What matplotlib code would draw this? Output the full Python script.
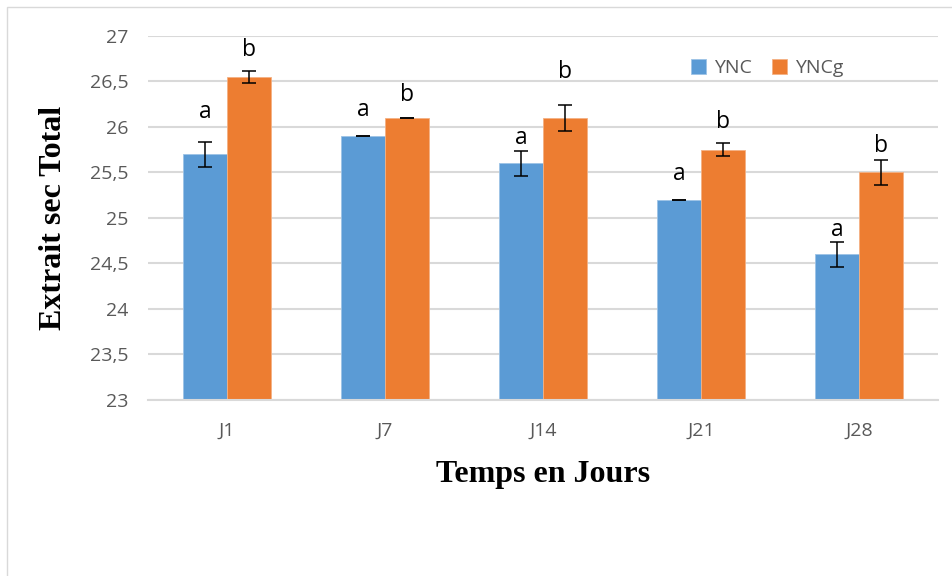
import matplotlib.pyplot as plt
import matplotlib.patches as mpatches
import numpy as np

days = ['J1', 'J7', 'J14', 'J21', 'J28']
ync = [25.7, 25.9, 25.6, 25.2, 24.6]
ync_err = [0.14, 0.0, 0.14, 0.0, 0.14]
yncg = [26.55, 26.1, 26.1, 25.75, 25.5]
yncg_err = [0.07, 0.0, 0.14, 0.07, 0.14]
ync_letters = ['a', 'a', 'a', 'a', 'a']
yncg_letters = ['b', 'b', 'b', 'b', 'b']
# where the letters sit (data units), placed by hand in the original
ync_letter_y = [26.16, 26.19, 25.88, 25.48, 24.87]
yncg_letter_y = [26.85, 26.35, 26.6, 26.05, 25.79]
yticks = [23, 23.5, 24, 24.5, 25, 25.5, 26, 26.5, 27]

blue = '#5B9BD5'
orange = '#ED7D31'
grey = '#595959'

fig = plt.figure(figsize=(9.53, 5.76), dpi=100)
ax = fig.add_axes([0.1553, 0.3056, 0.829, 0.632])

# chart area border (cropped)
fig.patches.append(mpatches.Rectangle((7 / 953, -0.1), 1.2, 1 - 7 / 576 + 0.1,
                                      transform=fig.transFigure, fill=False,
                                      edgecolor='#D9D9D9', lw=1))

x = np.arange(len(days))
width = 0.28
err_kw = {'ecolor': 'black', 'elinewidth': 1.1, 'capthick': 1.1}
ax.bar(x - width / 2, ync, width, color=blue, edgecolor='#9DC3E6',
       linewidth=0.6, yerr=ync_err, capsize=5, error_kw=err_kw, label='YNC', zorder=2)
ax.bar(x + width / 2, yncg, width, color=orange, edgecolor='#F4B183',
       linewidth=0.6, yerr=yncg_err, capsize=5, error_kw=err_kw, label='YNCg', zorder=2)

for i in range(len(days)):
    ax.text(x[i] - width / 2, ync_letter_y[i], ync_letters[i], ha='center', va='center',
            fontsize=16.5, family='Open Sans')
    ax.text(x[i] + width / 2, yncg_letter_y[i], yncg_letters[i], ha='center', va='center',
            fontsize=16.5, family='Open Sans')

ax.set_xlim(-0.5, len(days) - 0.5)
ax.set_ylim(23, 27)
ax.set_yticks(yticks)
ax.set_yticklabels([('%g' % t).replace('.', ',') for t in yticks])
ax.set_xticks(x, days)
ax.tick_params(axis='both', length=0, labelsize=14, labelcolor=grey)
ax.tick_params(axis='y', pad=14)
ax.tick_params(axis='x', pad=16)
for lab in ax.get_xticklabels() + ax.get_yticklabels():
    lab.set_family('Open Sans')

ax.yaxis.grid(True, color='#D9D9D9', lw=1.5)
ax.set_axisbelow(True)
ax.spines[['top', 'right', 'left']].set_visible(False)
ax.spines['bottom'].set_color('#D9D9D9')
ax.spines['bottom'].set_linewidth(1.5)

ax.set_ylabel('Extrait sec Total', family='Liberation Serif', fontweight='bold',
              fontsize=23, labelpad=16)
ax.set_xlabel('Temps en Jours', family='Liberation Serif', fontweight='bold',
              fontsize=23, labelpad=14)

leg = ax.legend(loc='upper left', bbox_to_anchor=(0.665, 0.985), ncol=2, frameon=False,
                handlelength=0.8, handleheight=0.8, handletextpad=0.4, columnspacing=1.0,
                prop={'family': 'Open Sans', 'size': 14})
for t in leg.get_texts():
    t.set_color(grey)

fig.savefig('out.png', dpi=100)
